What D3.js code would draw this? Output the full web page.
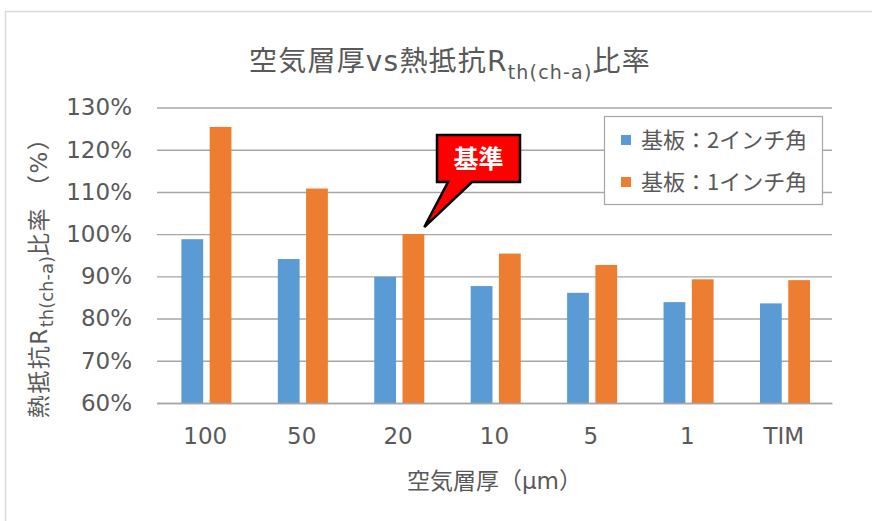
<!DOCTYPE html>
<html>
<head>
<meta charset="utf-8">
<script src="https://cdn.jsdelivr.net/npm/d3@7"></script>
<style>
  html, body { margin: 0; padding: 0; background: #fff; }
  svg { display: block; font-family: "DejaVu Sans", "Noto Sans CJK JP", sans-serif; }
</style>
</head>
<body>
<svg id="chart" width="872" height="521"></svg>
<script>
// Air-layer thickness vs thermal resistance ratio, two board sizes
const categories = ["100", "50", "20", "10", "5", "1", "TIM"];
const board2inch = [0.988, 0.941, 0.899, 0.877, 0.861, 0.839, 0.836];
const board1inch = [1.254, 1.108, 1.000, 0.954, 0.927, 0.893, 0.891];
const seriesNames = ["基板：2インチ角", "基板：1インチ角"];
const seriesColors = ["#5B9BD5", "#ED7D31"];
const yTicks = [0.6, 0.7, 0.8, 0.9, 1.0, 1.1, 1.2, 1.3];
const referenceCategory = "20";
const referenceLabel = "基準";

const textColor = "#595959";
const gridColor = "#a6a6a6";
const latinFont = "'DejaVu Sans', 'Noto Sans CJK JP', sans-serif";
const cjkFont = "'Noto Sans CJK JP', sans-serif";

const svg = d3.select("#chart");
svg.append("rect").attr("width", 872).attr("height", 521).attr("fill", "#fff");

// outer chart frame (continues past the right/bottom edge)
svg.append("rect")
  .attr("x", 5.5).attr("y", 11.5)
  .attr("width", 940).attr("height", 600)
  .attr("fill", "none").attr("stroke", "#d9d9d9").attr("stroke-width", 1.5);

const plot = { left: 157, right: 832, top: 107.5, bottom: 403 };

const x0 = d3.scaleBand().domain(categories).range([plot.left, plot.right]).padding(0);
const bw = x0.bandwidth();
const x1 = d3.scaleBand().domain([0, 1]).range([bw * 0.253, bw * 0.772]).paddingInner(0.23);
const y = d3.scaleLinear().domain([0.6, 1.3]).range([plot.bottom, plot.top]);

// gridlines + y tick labels
const yAxis = svg.append("g")
  .attr("transform", `translate(${plot.left},0)`)
  .call(d3.axisLeft(y).tickValues(yTicks).tickFormat(d3.format(".0%"))
    .tickSize(-(plot.right - plot.left)).tickPadding(25));
yAxis.select(".domain").remove();
yAxis.selectAll(".tick line").attr("stroke", gridColor).attr("stroke-width", 1.4);
yAxis.selectAll(".tick text").attr("fill", textColor).attr("font-size", 23)
  .attr("font-family", latinFont);

// bars
const rows = categories.map((c, i) => ({ c, v: [board2inch[i], board1inch[i]] }));
const groups = svg.append("g").selectAll("g").data(rows).join("g")
  .attr("transform", d => `translate(${x0(d.c)},0)`);
groups.selectAll("rect").data(d => d.v.map((v, s) => ({ v, s }))).join("rect")
  .attr("x", d => x1(d.s))
  .attr("width", x1.bandwidth())
  .attr("y", d => y(d.v))
  .attr("height", d => y(0.6) - y(d.v))
  .attr("fill", d => seriesColors[d.s]);

// x axis
const xAxis = svg.append("g")
  .attr("transform", `translate(0,${plot.bottom})`)
  .call(d3.axisBottom(x0).tickSize(0).tickPadding(25));
xAxis.select(".domain").attr("stroke", gridColor).attr("stroke-width", 1.4);
xAxis.selectAll(".tick text").attr("fill", textColor).attr("font-size", 23)
  .attr("font-family", latinFont);

// title with subscript
const title = svg.append("text")
  .attr("x", 450).attr("y", 71)
  .attr("text-anchor", "middle")
  .attr("fill", textColor).attr("font-size", 28)
  .attr("letter-spacing", 1.2)
  .attr("font-family", latinFont);
title.append("tspan").text("空気層厚vs熱抵抗R");
title.append("tspan").attr("font-size", 19).attr("dy", 8).text("th(ch-a)");
title.append("tspan").attr("dy", -8).text("比率");

// x axis title
svg.append("text")
  .attr("x", (plot.left + plot.right) / 2).attr("y", 489)
  .attr("text-anchor", "middle")
  .attr("fill", textColor).attr("font-size", 23)
  .attr("font-family", latinFont)
  .text("空気層厚（μm）");

// y axis title (rotated) with subscript
const yTitle = svg.append("text")
  .attr("transform", "translate(47,272) rotate(-90)")
  .attr("text-anchor", "middle")
  .attr("fill", textColor).attr("font-size", 23)
  .attr("font-family", latinFont);
yTitle.append("tspan").attr("letter-spacing", 1.5).text("熱抵抗R");
yTitle.append("tspan").attr("font-size", 18).attr("dy", 6).text("th(ch-a)");
yTitle.append("tspan").attr("dy", -6).attr("letter-spacing", 1.5).text("比率 （%）");

// legend
const legend = svg.append("g");
legend.append("rect")
  .attr("x", 604.5).attr("y", 116.5).attr("width", 218).attr("height", 88)
  .attr("fill", "#fff").attr("stroke", "#a6a6a6").attr("stroke-width", 1.2);
seriesNames.forEach((name, i) => {
  const cy = 140 + i * 42;
  legend.append("rect")
    .attr("x", 621).attr("y", cy - 5).attr("width", 10).attr("height", 10)
    .attr("fill", seriesColors[i]);
  legend.append("text")
    .attr("x", 641).attr("y", cy).attr("dy", "0.36em")
    .attr("fill", textColor).attr("font-size", 22)
    .attr("font-family", cjkFont)
    .text(name);
});

// callout pointing at the reference bar
const ri = categories.indexOf(referenceCategory);
const tipX = x0(referenceCategory) + x1(1) + x1.bandwidth();
const tipY = y(board1inch[ri]) - 7;
const bx0 = 437, bx1 = 520, by0 = 135, by1 = 182;
const calloutPath = d3.path();
calloutPath.moveTo(bx0, by0);
calloutPath.lineTo(bx1, by0);
calloutPath.lineTo(bx1, by1);
calloutPath.lineTo(472, by1);
calloutPath.lineTo(tipX, tipY);
calloutPath.lineTo(448, by1);
calloutPath.lineTo(bx0, by1);
calloutPath.closePath();
svg.append("path")
  .attr("d", calloutPath.toString())
  .attr("fill", "#ff0000").attr("stroke", "#000").attr("stroke-width", 2.5)
  .attr("stroke-linejoin", "miter");
svg.append("text")
  .attr("x", (bx0 + bx1) / 2).attr("y", (by0 + by1) / 2).attr("dy", "0.36em")
  .attr("text-anchor", "middle")
  .attr("fill", "#fff").attr("font-weight", "bold").attr("font-size", 25)
  .attr("font-family", cjkFont)
  .text(referenceLabel);
</script>
</body>
</html>
